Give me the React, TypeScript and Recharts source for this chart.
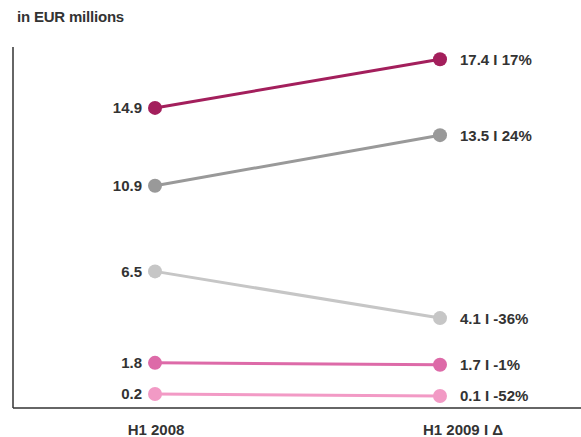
import React from 'react';
import { LineChart, Line, XAxis, YAxis, LabelList } from 'recharts';

const periods = ['H1 2008', 'H1 2009 I Δ'];
const seriesNames = ['s0', 's1', 's2', 's3', 's4'];
const seriesColors = ['#A31F5C', '#999999', '#C6C6C6', '#DD6AA8', '#F29AC5'];
const valuesH1_2008 = [14.9, 10.9, 6.5, 1.8, 0.2];
const valuesH1_2009 = [17.4, 13.5, 4.1, 1.7, 0.1];
const deltaLabels = ['17%', '24%', '-36%', '-1%', '-52%'];

const data = periods.map((period, i) => {
  const row: Record<string, string | number> = { period };
  seriesNames.forEach((key, s) => {
    row[key] = i === 0 ? valuesH1_2008[s] : valuesH1_2009[s];
  });
  return row;
});

const FONT = '"Liberation Sans", Arial, Helvetica, sans-serif';
const TEXT = '#333333';

const fmt = (v: number) => v.toFixed(1);

function makeLabel(s: number) {
  return (props: any) => {
    const { x, y, index } = props;
    if (index === 0) {
      return (
        <text x={x - 13} y={y + 5.5} textAnchor="end" fontFamily={FONT} fontSize={15} fontWeight="bold" fill={TEXT}>
          {fmt(valuesH1_2008[s])}
        </text>
      );
    }
    return (
      <text x={x + 20} y={y + 5.5} textAnchor="start" fontFamily={FONT} fontSize={15} fontWeight="bold" fill={TEXT}>
        {`${fmt(valuesH1_2009[s])} I ${deltaLabels[s]}`}
      </text>
    );
  };
}

const tickOffsets = [1, 23];

function PeriodTick(props: any) {
  const { x, y, payload, index } = props;
  return (
    <text x={x + (tickOffsets[index] ?? 0)} y={y + 19} textAnchor="middle" fontFamily={FONT} fontSize={15} fontWeight="bold" fill={TEXT}>
      {payload.value}
    </text>
  );
}

export default function App() {
  return (
    <div style={{ position: 'absolute', left: 0, top: 0, width: 581, height: 437, background: '#fff' }}>
      <div style={{ position: 'absolute', left: 17, top: 8, fontFamily: FONT, fontSize: 15, fontWeight: 'bold', color: TEXT, letterSpacing: -0.2 }}>
        in EUR millions
      </div>
      <LineChart width={581} height={437} data={data} margin={{ top: 47, right: 0, left: 12, bottom: 0 }}>
        <XAxis
          dataKey="period"
          padding={{ left: 142, right: 141 }}
          axisLine={{ stroke: '#333', strokeWidth: 1.5 }}
          tickLine={false}
          height={29}
          tick={<PeriodTick />}
          interval={0}
        />
        <YAxis
          type="number"
          domain={[-0.52, 18.03]}
          width={1}
          tick={false}
          tickLine={false}
          axisLine={{ stroke: '#333', strokeWidth: 1.5 }}
          allowDataOverflow
        />
        {seriesNames.map((key, s) => (
          <Line
            key={key}
            dataKey={key}
            stroke={seriesColors[s]}
            strokeWidth={3}
            dot={{ r: 7, fill: seriesColors[s], stroke: seriesColors[s], strokeWidth: 0 }}
            activeDot={false}
            isAnimationActive={false}
          >
            <LabelList dataKey={key} content={makeLabel(s)} />
          </Line>
        ))}
      </LineChart>
    </div>
  );
}
